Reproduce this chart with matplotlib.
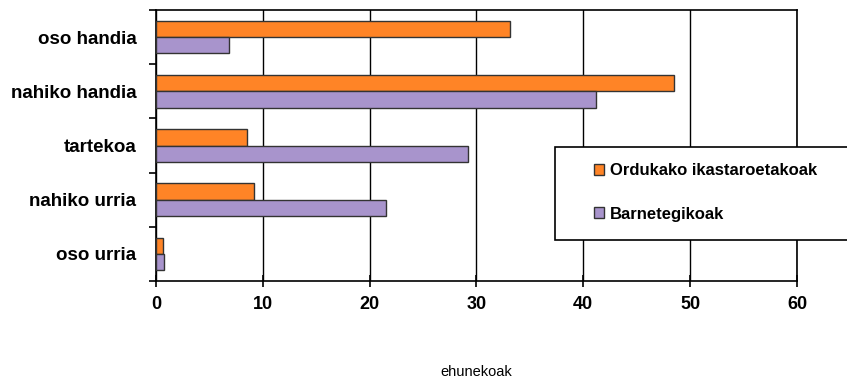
import numpy as np
import matplotlib
matplotlib.use("Agg")
import matplotlib.pyplot as plt
from matplotlib.patches import Rectangle

# Datos
categorias = ["oso handia", "nahiko handia", "tartekoa", "nahiko urria", "oso urria"]
ordukako = [33.1, 48.5, 8.5, 9.2, 0.7]
barnetegi = [6.8, 41.2, 29.2, 21.5, 0.8]
series_labels = ["Ordukako ikastaroetakoak", "Barnetegikoak"]
x_ticks = [0, 10, 20, 30, 40, 50, 60]

plt.rcParams['font.family'] = ['Liberation Sans', 'DejaVu Sans']

fig = plt.figure(figsize=(8.47, 3.84), dpi=100)
ax = fig.add_axes([0.184, 0.268, 0.757, 0.706])

y = np.arange(len(categorias))
h = 0.3
ax.barh(y - h / 2, ordukako, height=h, color="#FF8426", edgecolor="#333333",
        linewidth=1.0, label=series_labels[0], zorder=3)
ax.barh(y + h / 2, barnetegi, height=h, color="#A894CC", edgecolor="#333333",
        linewidth=1.0, label=series_labels[1], zorder=3)

ax.set_xlim(0, 60)
ax.set_ylim(len(categorias) - 0.5, -0.5)
ax.set_xticks(x_ticks)
ax.set_xticklabels([str(t) for t in x_ticks], fontsize=13, fontweight="bold")
ax.tick_params(axis="x", direction="inout", length=8, width=1.2, pad=7)
ax.grid(axis="x", color="black", linewidth=1.0, zorder=0)

ax.set_yticks(y)
ax.set_yticklabels(categorias, fontsize=13.5, fontweight="bold")
ax.tick_params(axis="y", which="major", length=0, pad=14)
ax.set_yticks(np.arange(-0.5, len(categorias), 1.0), minor=True)
ax.tick_params(axis="y", which="minor", length=5, width=1.2, direction="out")

for s in ["top", "bottom", "left", "right"]:
    ax.spines[s].set_linewidth(1.2)

ax.set_xlabel("ehunekoak", fontsize=10.5, labelpad=37)

# Caja de la leyenda (sale por el borde derecho)
caja = Rectangle((555 / 847, 1 - 240 / 384), 310 / 847, 93 / 384,
                 transform=fig.transFigure, facecolor="white", edgecolor="black",
                 linewidth=1.2, zorder=4, clip_on=False)
fig.add_artist(caja)

handles, labels = ax.get_legend_handles_labels()
leg = fig.legend(handles, labels, loc="center left",
                 bbox_to_anchor=(594 / 847, 1 - 192.5 / 384),
                 frameon=False, handlelength=0.6, handleheight=0.6,
                 handletextpad=0.35, labelspacing=1.7, borderpad=0,
                 borderaxespad=0, prop={"size": 12, "weight": "bold"})
leg.set_zorder(5)

fig.savefig("out.png", dpi=100)
